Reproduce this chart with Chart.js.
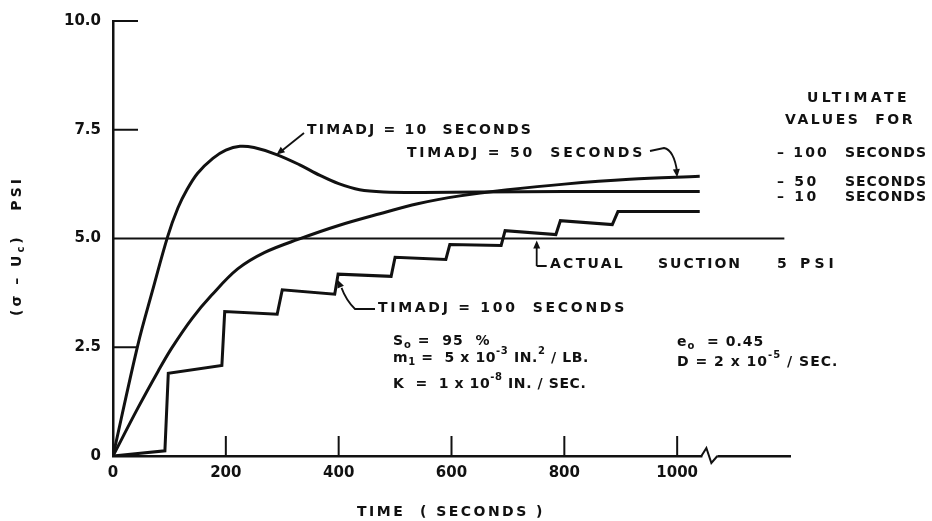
<!DOCTYPE html>
<html>
<head>
<meta charset="utf-8">
<script src="https://cdn.jsdelivr.net/npm/chart.js@4.4.1/dist/chart.umd.min.js"></script>
<style>
  html, body { margin: 0; padding: 0; background: #fff; }
  canvas { display: block; }
</style>
</head>
<body>
<canvas id="myChart" width="932" height="521"></canvas>
<script>
// axis ticks
const timeTicks = [0, 200, 400, 600, 800, 1000];
const psiTicks = [0, 2.5, 5, 7.5, 10];
const psiTickLabels = ['0', '2.5', '5.0', '7.5', '10.0'];

// TIMADJ = 10 seconds (overshoot curve)
const timadj10Time = [0, 44, 70, 97, 115, 131, 150, 177, 200, 225, 250, 290, 330, 367, 400, 437, 480, 550, 650, 800, 1040];
const timadj10Psi = [0, 2.55, 3.8, 5.05, 5.7, 6.12, 6.5, 6.84, 7.03, 7.12, 7.09, 6.93, 6.7, 6.45, 6.26, 6.12, 6.07, 6.06, 6.07, 6.08, 6.08];

// TIMADJ = 50 seconds
const timadj50Time = [0, 44, 80, 104, 140, 175, 221, 269, 328, 400, 473, 540, 615, 700, 800, 916, 1040];
const timadj50Psi = [0, 1.1, 1.95, 2.48, 3.16, 3.7, 4.3, 4.68, 4.98, 5.3, 5.57, 5.8, 5.98, 6.12, 6.25, 6.36, 6.43];

// TIMADJ = 100 seconds (staircase)
const timadj100Time = [0, 92, 98, 193, 198, 291, 300, 393, 399, 493, 500, 590, 597, 688, 695, 785, 793, 885, 895, 1040];
const timadj100Psi = [0, 0.12, 1.9, 2.08, 3.32, 3.26, 3.82, 3.72, 4.18, 4.13, 4.57, 4.52, 4.86, 4.84, 5.18, 5.09, 5.41, 5.32, 5.62, 5.62];

// actual suction 5 psi
const suctionTime = [0, 1190];
const suctionPsi = [5, 5];

const toPoints = (xs, ys) => xs.map((x, i) => ({ x: x, y: ys[i] }));

const INK = '#111';
const FONT = '"DejaVu Sans", "Liberation Sans", sans-serif';

function fitText(ctx, txt, x, y, w) {
  ctx.letterSpacing = '0px';
  const m = ctx.measureText(txt).width;
  const sp = Math.max(0, (w - m) / txt.length);
  ctx.letterSpacing = sp + 'px';
  ctx.fillText(txt, x, y);
  ctx.letterSpacing = '0px';
}

// parts: [text, mode] mode 0 normal, 1 superscript, -1 subscript
function drawRich(ctx, parts, x, y, size, spacing) {
  let cx = x;
  ctx.letterSpacing = spacing + 'px';
  parts.forEach(([txt, mode]) => {
    const s = mode ? Math.round(size * 0.72) : size;
    ctx.font = `bold ${s}px ${FONT}`;
    const dy = mode === 1 ? -size * 0.45 : mode === -1 ? size * 0.3 : 0;
    ctx.fillText(txt, cx, y + dy);
    cx += ctx.measureText(txt).width;
  });
  ctx.letterSpacing = '0px';
  return cx - x;
}

function arrowHead(ctx, fx, fy, tx, ty) {
  const a = Math.atan2(ty - fy, tx - fx);
  const len = 8, wid = 3.5;
  ctx.beginPath();
  ctx.moveTo(tx, ty);
  ctx.lineTo(tx - len * Math.cos(a) + wid * Math.sin(a), ty - len * Math.sin(a) - wid * Math.cos(a));
  ctx.lineTo(tx - len * Math.cos(a) - wid * Math.sin(a), ty - len * Math.sin(a) + wid * Math.cos(a));
  ctx.closePath();
  ctx.fill();
}

const paperPlugin = {
  id: 'paper',
  beforeDraw(chart) {
    const ctx = chart.ctx;
    ctx.save();
    ctx.fillStyle = '#fff';
    ctx.fillRect(0, 0, chart.width, chart.height);
    ctx.restore();
  },
  afterDraw(chart) {
    const ctx = chart.ctx;
    const xs = chart.scales.x, ys = chart.scales.y;
    const area = chart.chartArea;
    ctx.save();
    ctx.strokeStyle = INK;
    ctx.fillStyle = INK;
    ctx.lineCap = 'butt';

    // inward tick marks
    ctx.lineWidth = 2;
    timeTicks.filter(v => v > 0).forEach(v => {
      const px = xs.getPixelForValue(v);
      ctx.beginPath();
      ctx.moveTo(px, area.bottom);
      ctx.lineTo(px, area.bottom - 20);
      ctx.stroke();
    });
    psiTicks.filter(v => v > 0 && v !== 5).forEach(v => {
      const py = ys.getPixelForValue(v);
      ctx.beginPath();
      ctx.moveTo(area.left, py);
      ctx.lineTo(area.left + 25, py);
      ctx.stroke();
    });

    // axis break
    const bx = xs.getPixelForValue(1050);
    const by = area.bottom;
    ctx.fillStyle = '#fff';
    ctx.fillRect(bx - 3, by - 3, 15, 6);
    ctx.fillStyle = INK;
    ctx.lineWidth = 2;
    ctx.beginPath();
    ctx.moveTo(bx - 4, by);
    ctx.lineTo(bx + 1, by - 8);
    ctx.lineTo(bx + 6, by + 7);
    ctx.lineTo(bx + 12, by);
    ctx.stroke();

    ctx.textBaseline = 'middle';
    ctx.textAlign = 'left';
    ctx.font = `bold 14px ${FONT}`;

    // TIMADJ = 10
    fitText(ctx, 'TIMADJ = 10  SECONDS', 307, 130, 226);
    let tx = xs.getPixelForValue(290), ty = ys.getPixelForValue(6.93);
    ctx.lineWidth = 1.8;
    ctx.beginPath();
    ctx.moveTo(304, 133);
    ctx.lineTo(tx + 3, ty - 2);
    ctx.stroke();
    arrowHead(ctx, 304, 133, tx, ty);

    // TIMADJ = 50
    fitText(ctx, 'TIMADJ = 50  SECONDS', 407, 153, 238);
    tx = xs.getPixelForValue(1000); ty = ys.getPixelForValue(6.41);
    ctx.beginPath();
    ctx.moveTo(650, 151);
    ctx.lineTo(664, 148);
    ctx.quadraticCurveTo(674, 150, tx, ty - 5);
    ctx.stroke();
    arrowHead(ctx, tx - 1, ty - 10, tx, ty);

    // TIMADJ = 100
    fitText(ctx, 'TIMADJ = 100  SECONDS', 378, 308, 249);
    tx = xs.getPixelForValue(398); ty = ys.getPixelForValue(4.05);
    ctx.beginPath();
    ctx.moveTo(375, 309);
    ctx.lineTo(355, 309);
    ctx.quadraticCurveTo(346, 300, tx + 4, ty + 8);
    ctx.stroke();
    arrowHead(ctx, tx + 6, ty + 14, tx, ty);

    // actual suction
    fitText(ctx, 'ACTUAL', 550, 264, 75);
    fitText(ctx, 'SUCTION', 658, 264, 84);
    fitText(ctx, '5 PSI', 777, 264, 61);
    tx = xs.getPixelForValue(751); ty = ys.getPixelForValue(5);
    ctx.beginPath();
    ctx.moveTo(tx, 266);
    ctx.lineTo(tx, ty + 6);
    ctx.moveTo(tx, 266);
    ctx.lineTo(tx + 10, 266);
    ctx.stroke();
    arrowHead(ctx, tx, ty + 12, tx, ty + 2);

    // ultimate values
    fitText(ctx, 'ULTIMATE', 807, 98, 103);
    fitText(ctx, 'VALUES  FOR', 785, 120, 130);
    fitText(ctx, '– 100', 777, 153, 52);
    fitText(ctx, '– 50', 777, 182, 42);
    fitText(ctx, '– 10', 777, 197, 42);
    fitText(ctx, 'SECONDS', 845, 153, 82);
    fitText(ctx, 'SECONDS', 845, 182, 82);
    fitText(ctx, 'SECONDS', 845, 197, 82);

    // parameter block
    drawRich(ctx, [['S', 0], ['o', -1], [' =  95  %', 0]], 393, 341, 14, 1);
    drawRich(ctx, [['m', 0], ['1', -1], [' =  5 x 10', 0], ['-3', 1], [' IN.', 0], ['2', 1], [' / LB.', 0]], 393, 358, 14, 0.6);
    drawRich(ctx, [['K  =  1 x 10', 0], ['-8', 1], [' IN. / SEC.', 0]], 393, 384, 14, 0.6);
    drawRich(ctx, [['e', 0], ['o', -1], ['  = 0.45', 0]], 677, 342, 14, 1);
    drawRich(ctx, [['D = 2 x 10', 0], ['-5', 1], [' / SEC.', 0]], 677, 362, 14, 1);

    // axis titles
    ctx.font = `bold 14px ${FONT}`;
    fitText(ctx, 'TIME  ( SECONDS )', 357, 512, 188);
    ctx.translate(17, 243);
    ctx.rotate(-Math.PI / 2);
    drawRich(ctx, [['(σ – U', 0], ['c', -1], [')   PSI', 0]], -73, 0, 14, 3);
    ctx.restore();
  }
};

const ctx = document.getElementById('myChart').getContext('2d');
const myChart = new Chart(ctx, {
  type: 'line',
  data: {
    datasets: [
      { data: toPoints(suctionTime, suctionPsi), borderColor: INK, borderWidth: 2, pointRadius: 0, tension: 0 },
      { data: toPoints(timadj10Time, timadj10Psi), borderColor: INK, borderWidth: 3, pointRadius: 0, tension: 0.35 },
      { data: toPoints(timadj50Time, timadj50Psi), borderColor: INK, borderWidth: 3, pointRadius: 0, tension: 0.35 },
      { data: toPoints(timadj100Time, timadj100Psi), borderColor: INK, borderWidth: 3, pointRadius: 0, tension: 0 }
    ]
  },
  options: {
    responsive: false,
    animation: false,
    devicePixelRatio: 1,
    layout: { padding: { left: 0, right: 142, top: 15, bottom: 0 } },
    plugins: { legend: { display: false }, tooltip: { enabled: false } },
    scales: {
      x: {
        type: 'linear',
        min: 0,
        max: 1200,
        afterFit: (s) => { s.height = 65; },
        afterBuildTicks: (s) => { s.ticks = timeTicks.map(v => ({ value: v })); },
        grid: { display: false, drawTicks: false },
        border: { display: true, color: INK, width: 2.5 },
        ticks: {
          color: INK,
          padding: 8,
          maxRotation: 0,
          font: { family: FONT, weight: 'bold', size: 15 },
          callback: (v) => String(v)
        }
      },
      y: {
        min: 0,
        max: 10,
        afterFit: (s) => { s.width = 113; },
        afterBuildTicks: (s) => { s.ticks = psiTicks.map(v => ({ value: v })); },
        grid: { display: false, drawTicks: false },
        border: { display: true, color: INK, width: 2.5 },
        ticks: {
          color: INK,
          padding: 12,
          font: { family: FONT, weight: 'bold', size: 15 },
          callback: (v, i) => psiTickLabels[i]
        }
      }
    }
  },
  plugins: [paperPlugin]
});
</script>
</body>
</html>
